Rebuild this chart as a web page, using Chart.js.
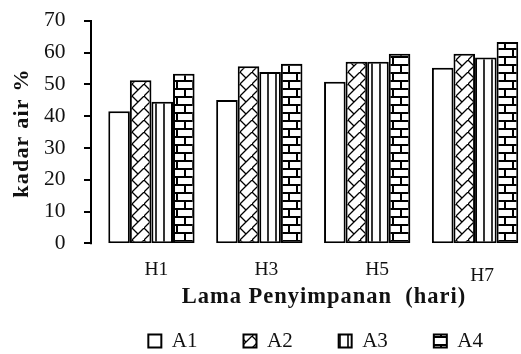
<!DOCTYPE html>
<html>
<head>
<meta charset="utf-8">
<script src="https://cdn.jsdelivr.net/npm/chart.js@4.4.0/dist/chart.umd.min.js"></script>
<style>
  html, body { margin: 0; padding: 0; background: #fff; overflow: hidden; width: 521px; height: 354px; }
  canvas { display: block; }
</style>
</head>
<body>
<canvas id="c" width="529" height="354" style="width:529px;height:354px"></canvas>
<script>
// Kadar air per lama penyimpanan
const categories = ['H1', 'H3', 'H5', 'H7'];
const seriesNames = ['A1', 'A2', 'A3', 'A4'];
const valuesA1 = [41.5, 45.1, 50.8, 55.2];
const valuesA2 = [51.3, 55.7, 57.1, 59.6];
const valuesA3 = [44.5, 53.9, 57.1, 58.4];
const valuesA4 = [53.3, 56.5, 59.6, 63.3];
const yTicks = [0, 10, 20, 30, 40, 50, 60, 70];
const xTitle = 'Lama Penyimpanan  (hari)';
const yTitle = 'kadar air %';

const canvas = document.getElementById('c');
const mainCtx = canvas.getContext('2d');

function makePattern(w, h, draw) {
  const c = document.createElement('canvas');
  c.width = w; c.height = h;
  const g = c.getContext('2d');
  g.fillStyle = '#fff';
  g.fillRect(0, 0, w, h);
  g.strokeStyle = '#000';
  draw(g, w, h);
  return mainCtx.createPattern(c, 'repeat');
}

// A1: plain white
const fillA1 = '#ffffff';
// A2: zigzag diagonals
const fillA2 = makePattern(12, 12, (g) => {
  g.lineWidth = 1.3;
  g.beginPath();
  g.moveTo(-1, 13); g.lineTo(13, -1);
  g.moveTo(0, 0); g.lineTo(6, 6);
  g.stroke();
});
// A3: wide vertical lines
const fillA3 = makePattern(8, 4, (g) => {
  g.lineWidth = 1.6;
  g.beginPath();
  g.moveTo(4, 0); g.lineTo(4, 4);
  g.stroke();
});
// A4: horizontal bricks
const fillA4 = makePattern(16, 16, (g) => {
  g.lineWidth = 2;
  g.beginPath();
  g.moveTo(0, 1); g.lineTo(16, 1);
  g.moveTo(0, 9); g.lineTo(16, 9);
  g.moveTo(1, 1); g.lineTo(1, 9);
  g.moveTo(9, 9); g.lineTo(9, 17);
  g.stroke();
});

const fills = [fillA1, fillA2, fillA3, fillA4];
const seriesValues = [valuesA1, valuesA2, valuesA3, valuesA4];

const serif = "'Liberation Serif', 'Times New Roman', serif";

// Axis line, tick labels of the category axis and both axis titles
const decorations = {
  id: 'decorations',
  afterDraw(chart) {
    const ctx = chart.ctx;
    const area = chart.chartArea;
    const y = chart.scales.y;
    const x = chart.scales.x;
    ctx.save();
    // value axis line with outward tick marks
    const axisX = area.left - 6.5;
    ctx.strokeStyle = '#000';
    ctx.lineWidth = 2;
    ctx.beginPath();
    ctx.moveTo(axisX, y.getPixelForValue(yTicks[yTicks.length - 1]));
    ctx.lineTo(axisX, y.getPixelForValue(yTicks[0]) + 1);
    yTicks.forEach(v => {
      const py = Math.round(y.getPixelForValue(v));
      ctx.moveTo(axisX - 7, py);
      ctx.lineTo(axisX + 1, py);
    });
    ctx.stroke();

    // category labels
    ctx.fillStyle = '#111';
    ctx.font = '19.5px ' + serif;
    ctx.textAlign = 'center';
    ctx.textBaseline = 'alphabetic';
    const shiftX = [5, 7, 10, 7];
    const shiftY = [32, 32, 32, 38];
    categories.forEach((lab, i) => {
      ctx.fillText(lab, x.getPixelForValue(i) + shiftX[i], area.bottom + shiftY[i]);
    });

    // x title
    ctx.font = 'bold 22.5px ' + serif;
    ctx.letterSpacing = '1px';
    ctx.fillText(xTitle, 324, 303);

    // y title
    ctx.font = 'bold 22px ' + serif;
    ctx.letterSpacing = '1.2px';
    ctx.translate(28, 133);
    ctx.rotate(-Math.PI / 2);
    ctx.fillText(yTitle, 0, 0);
    ctx.restore();
  }
};

new Chart(canvas, {
  type: 'bar',
  data: {
    labels: categories,
    datasets: seriesNames.map((name, i) => ({
      label: name,
      data: seriesValues[i],
      backgroundColor: fills[i],
      borderColor: '#000',
      borderWidth: 2,
      borderSkipped: false,
      categoryPercentage: 0.8,
      barPercentage: 1.0
    }))
  },
  options: {
    responsive: false,
    animation: false,
    devicePixelRatio: 1,
    layout: { padding: { top: 20.7, right: 0, bottom: 0, left: 0 } },
    scales: {
      x: {
        grid: { display: false },
        border: { display: false },
        ticks: { display: false },
        afterFit(scale) { scale.height = 41.2; }
      },
      y: {
        min: yTicks[0],
        max: yTicks[yTicks.length - 1],
        grid: { display: false },
        border: { display: false },
        ticks: {
          stepSize: 10,
          padding: 24,
          color: '#111',
          font: { family: serif, size: 21.5 }
        },
        afterBuildTicks(scale) { scale.ticks = yTicks.map(v => ({ value: v })); },
        afterFit(scale) {
          scale.width = 97.5;
          scale.paddingTop = 0;
          scale.paddingBottom = 0;
        }
      }
    },
    plugins: {
      tooltip: { enabled: false },
      legend: {
        position: 'bottom',
        align: 'end',
        maxHeight: 69.5,
        labels: {
          boxWidth: 13,
          boxHeight: 13,
          padding: 46,
          color: '#111',
          font: { family: serif, size: 21 }
        }
      }
    }
  },
  plugins: [decorations]
});
</script>
</body>
</html>
